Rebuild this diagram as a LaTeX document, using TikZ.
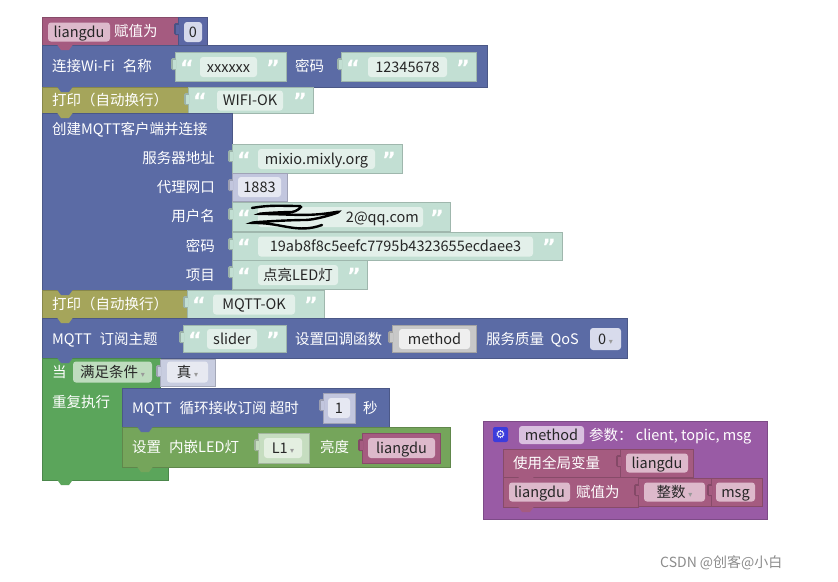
\documentclass[tikz,border=0pt]{standalone}
\usepackage{fontspec}
\setmainfont{Noto Sans CJK SC}
\newfontfamily\dv{DejaVu Sans}
\definecolor{cpink}{HTML}{A55B80}
\definecolor{cpinkf}{HTML}{DDB9CB}
\definecolor{cblue}{HTML}{5B6BA5}
\definecolor{cmath}{HTML}{5B67A5}
\definecolor{cmathf}{HTML}{D6D9EB}
\definecolor{ctxt}{HTML}{C2DFD3}
\definecolor{ctxtf}{HTML}{E3F0EA}
\definecolor{colive}{HTML}{A5A55B}
\definecolor{clav}{HTML}{C2C6DE}
\definecolor{clavf}{HTML}{E6E8F2}
\definecolor{cgray}{HTML}{C8C8C8}
\definecolor{cgrayf}{HTML}{EFEFEF}
\definecolor{cgreen}{HTML}{5BA55B}
\definecolor{cgreenf}{HTML}{BEDCBE}
\definecolor{cled}{HTML}{75A55B}
\definecolor{cl1}{HTML}{C6DDC0}
\definecolor{cl1f}{HTML}{E4EFE1}
\definecolor{cpurple}{HTML}{995BA5}
\definecolor{cpurplef}{HTML}{D9C0DF}
\definecolor{ctrue}{HTML}{C8CDE0}
\definecolor{ctruef}{HTML}{E7E9F1}
\definecolor{cdd}{HTML}{D8DBEC}
\definecolor{cgear}{HTML}{3C3CDC}
\newcommand\dd{{\dv\fontsize{8}{9}\selectfont\color{black!40}\ ▾}}
\newcommand\gap{\hspace{8pt}}
\newcommand\sblk[5]{\fill[#5, draw=#5!82!black, line width=0.5pt] ({#1},{#2}) rectangle ({#3},{#4});}
\newcommand\vblk[5]{\fill[#5, draw=#5!82!black, line width=0.5pt] ({#1},{#2}) rectangle ({#3},{#4});
  \fill[#5!80!black, rounded corners=1.5pt] ({#1-4},{#2+6}) rectangle ({#1+1},{#2+18});
  \fill[#5] ({#1-2.5},{#2+7.5}) rectangle ({#1+1},{#2+16.5});}
\newcommand\fld[7]{\node[fld, fill=#5, minimum width={#2-(#1)}, minimum height=#4] (#6) at ({(#1+#2)/2},{#3}) {#7};}
\newcommand\tblk[8]{\vblk{#1}{#2}{#3}{#4}{ctxt}
  \node[qt] (#8q1) at ({#1+12},{(#2+#4)/2+1}) {“};
  \fld{#5}{#6}{(#2+#4)/2+0.5}{20}{ctxtf}{#8}{#7}
  \node[qt] (#8q2) at ({#3-13},{(#2+#4)/2+1}) {”};}
\newcommand\notch[3]{\fill[#3] ({#1},{#2-0.5}) -- ({#1+4},{#2+5}) -- ({#1+12},{#2+5}) -- ({#1+16},{#2-0.5}) -- cycle;}
\begin{document}
\begin{tikzpicture}[x=1pt,y=-1pt,font=\fontsize{14.5}{16}\selectfont,
  lbl/.style={anchor=west, inner sep=0pt, text=white, text height=11pt, text depth=1pt},
  fld/.style={rounded corners=3pt, inner sep=0pt, text=black!85, text height=11pt, text depth=1pt},
  qt/.style={inner sep=0pt, text=white, font=\dv\bfseries\fontsize{21}{22}\selectfont}]
\useasboundingbox (0,0) rectangle (838,581);
\fill[white] (0,0) rectangle (838,581);
% block 1
\sblk{42}{17}{178}{45}{cpink}
\fld{48}{110}{32}{19}{cpinkf}{f1}{liangdu}
\node[lbl] (l1) at (114,31) {赋值为};
\vblk{178}{17}{207}{45}{cmath}
\fld{184}{202}{32}{20}{cmathf}{f0}{0}
% wifi
\sblk{42}{45}{487}{87}{cblue}
\node[lbl] (l2) at (52,66) {连接Wi-Fi\gap 名称};
\tblk{175}{52}{286}{81}{200}{257}{xxxxxx}{t1}
\node[lbl] (l3) at (295,66) {密码};
\tblk{341}{52}{476}{81}{368}{447}{12345678}{t2}
% print 1
\sblk{42}{87}{188}{113}{colive}
\node[lbl] (l4) at (52,100) {打印（自动换行）};
\tblk{188}{87}{313}{113}{217}{283}{WIFI-OK}{t3}
% create mqtt
\sblk{42}{113}{232}{290}{cblue}
\node[lbl] (l5) at (52,129) {创建MQTT客户端并连接};
\node[lbl,anchor=east] (l6) at (215,158) {服务器地址};
\tblk{232}{144}{402}{173}{258}{375}{mixio.mixly.org}{t4}
\node[lbl,anchor=east] (l7) at (215,187) {代理网口};
\vblk{232}{173}{287}{201}{clav}
\fld{238}{281}{187}{20}{clavf}{f2}{1883}
\node[lbl,anchor=east] (l8) at (215,216) {用户名};
\tblk{232}{202}{450}{231}{258}{423}{}{t5}
\node[fld, anchor=east, fill=none] (mail) at (419,217) {2@qq.com};
\draw[black, line width=2.4pt, line cap=round] (252,208) to[out=10,in=180] (300,206) to[out=0,in=0] (292,212)
  to[out=180,in=180] (262,214) to[out=0,in=190] (336,212) to[out=10,in=0] (305,220)
  to[out=180,in=180] (256,223) to[out=0,in=200] (322,225);
\node[lbl,anchor=east] (l9) at (215,246) {密码};
\tblk{232}{232}{562}{260}{258}{533}{19ab8f8c5eefc7795b4323655ecdaee3}{t6}
\node[lbl,anchor=east] (l10) at (215,275) {项目};
\tblk{232}{260}{367}{289}{258}{338}{点亮LED灯}{t7}
% print 2
\sblk{42}{290}{187}{318}{colive}
\node[lbl] (l11) at (52,304) {打印（自动换行）};
\tblk{187}{290}{324}{318}{213}{295}{MQTT-OK}{t8}
% subscribe
\sblk{42}{318}{627}{358}{cblue}
\node[lbl] (l12) at (52,339) {MQTT\gap 订阅主题};
\tblk{183}{325}{286}{352}{207}{257}{slider}{t9}
\node[lbl] (l13) at (295,339) {设置回调函数};
\vblk{392}{325}{476}{352}{cgray}
\fld{399}{470}{339}{20}{cgrayf}{f3}{method}
\node[lbl] (l14) at (486,339) {服务质量\ \ QoS};
\fld{590}{621}{339}{22}{cdd}{f4}{0\dd}
% loop
\fill[cgreen, draw=cgreen!82!black, line width=0.5pt] (42,358) -- (160,358) -- (160,388) -- (122,388) -- (122,467) -- (168,467) -- (168,480) -- (42,480) -- cycle;
\node[lbl] (l15) at (52,372) {当};
\fld{73}{152}{372}{21}{cgreenf}{f5}{满足条件\dd}
\vblk{160}{359}{215}{386}{ctrue}
\fld{167}{208}{372}{21}{ctruef}{f6}{真\dd}
\node[lbl] (l16) at (52,402) {重复执行};
\sblk{122}{388}{389}{427}{cblue}
\node[lbl] (l17) at (132,408) {MQTT\gap 循环接收订阅 超时};
\vblk{323}{393}{355}{423}{clav}
\fld{328}{350}{408}{20}{clavf}{f7}{1}
\node[lbl] (l18) at (363,408) {秒};
\sblk{122}{427}{450}{467}{cled}
\node[lbl] (l19) at (132,447) {设置\gap 内嵌LED灯};
\vblk{258}{433}{309}{463}{cl1}
\fld{264}{302}{448}{20}{cl1f}{f8}{L1\dd}
\node[lbl] (l20) at (320,447) {亮度};
\vblk{362}{433}{440}{463}{cpink}
\fld{368}{435}{448}{20}{cpinkf}{f9}{liangdu}
% procedure
\fill[cpurple, draw=cpurple!82!black, line width=0.5pt] (483,421) rectangle (767,519);
\fill[cgear, rounded corners=2pt] (493,427) rectangle (508,442);
\node[inner sep=0pt, text=white, font=\dv\fontsize{11}{12}\selectfont] (gear) at (500.5,434.5) {⚙};
\fld{519}{584}{435}{18}{cpurplef}{f10}{method}
\node[lbl] (l21) at (589,435) {参数：\ client, topic, msg};
\sblk{503}{449}{620}{477}{cpink}
\node[lbl] (l22) at (513,463) {使用全局变量};
\vblk{620}{449}{693}{477}{cpink}
\fld{626}{688}{463}{19}{cpinkf}{f11}{liangdu}
\sblk{503}{477}{638}{507}{cpink}
\fld{509}{570}{492}{19}{cpinkf}{f12}{liangdu}
\node[lbl] (l23) at (576,492) {赋值为};
\vblk{638}{478}{711}{506}{cpink}
\fld{644}{705}{492}{19}{cpinkf}{f13}{整数\dd}
\vblk{711}{478}{762}{506}{cpink}
\fld{716}{755}{492}{19}{cpinkf}{f14}{msg}
% notches
\notch{57}{45}{cpink}
\notch{57}{87}{cblue}
\notch{57}{113}{colive}
\notch{57}{290}{cblue}
\notch{57}{318}{colive}
\notch{57}{358}{cblue}
\notch{57}{480}{cgreen}
\notch{137}{427}{cblue}
\notch{137}{467}{cled}
\notch{518}{477}{cpink}
\notch{518}{507}{cpink}
% watermark
\node[anchor=west, inner sep=0pt, text=black!45, font=\fontsize{14}{16}\selectfont] (wm) at (660,563) {CSDN @创客@小白};
\end{tikzpicture}
\end{document}
